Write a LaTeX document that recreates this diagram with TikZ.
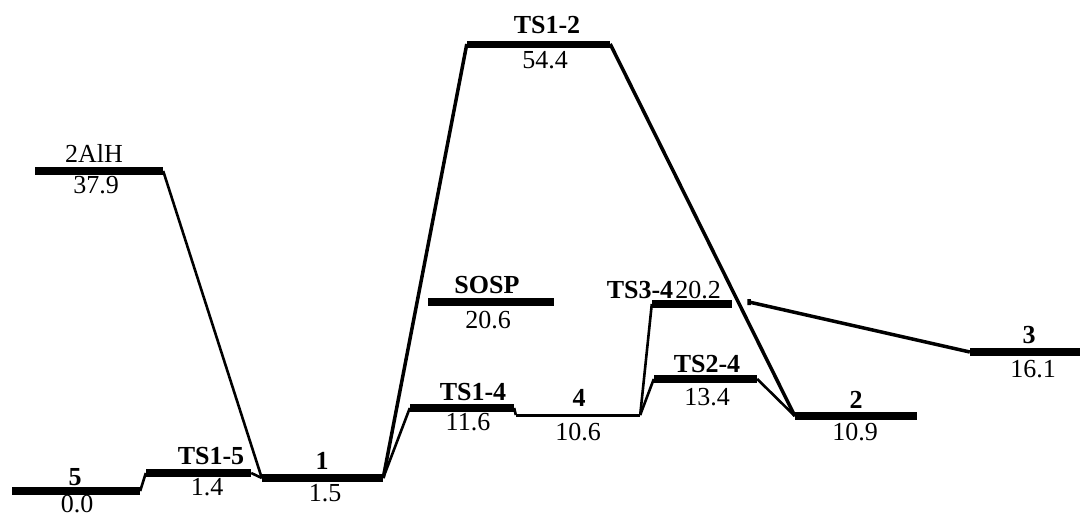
\documentclass[tikz,border=0pt]{standalone}
\usepackage{fontspec}
\setmainfont{Liberation Serif}
\begin{document}
\begin{tikzpicture}[x=1pt,y=-1pt,
  bar/.style={fill=black,draw=none,rectangle,inner sep=0pt,minimum height=8pt},
  thinbar/.style={fill=black,draw=none,rectangle,inner sep=0pt,minimum height=3pt},
  lab/.style={anchor=base,inner sep=0pt,font=\fontsize{26}{30}\selectfont\bfseries},
  en/.style={anchor=base,inner sep=0pt,font=\fontsize{26}{30}\selectfont},
  conn/.style={line width=2.6pt},
  thickconn/.style={line width=3.5pt}]
\useasboundingbox (0,0) rectangle (1080,515);
% levels
\node[bar,minimum width=128pt] (n5) at (76,491) {};
\node[bar,minimum width=105pt] (ts15) at (198.5,473) {};
\node[bar,minimum width=121pt] (n1) at (322.5,478) {};
\node[bar,minimum width=104pt] (ts14) at (462,408) {};
\node[thinbar,minimum width=124pt] (n4) at (578,415) {};
\node[bar,minimum width=126pt] (sosp) at (491,302) {};
\node[bar,minimum width=80pt] (ts34) at (692,304) {};
\node[bar,minimum width=103pt] (ts24) at (705.5,379) {};
\node[bar,minimum width=122pt] (n2) at (856,416) {};
\node[bar,minimum width=110pt] (n3) at (1025,352) {};
\node[bar,minimum width=143pt,minimum height=7pt] (ts12) at (538.5,44) {};
\node[bar,minimum width=128pt] (alh) at (99,171) {};
% labels
\node[lab] (l5) at (75,485) {5};
\node[en] (e5) at (77,512) {0.0};
\node[lab] (lts15) at (211,464) {TS1-5};
\node[en] (ets15) at (207,495) {1.4};
\node[lab] (l1) at (322,469) {1};
\node[en] (e1) at (325,501) {1.5};
\node[lab] (lts14) at (473,400) {TS1-4};
\node[en] (ets14) at (468,430) {11.6};
\node[lab] (l4) at (579,406) {4};
\node[en] (e4) at (578,440) {10.6};
\node[lab] (lsosp) at (487,293) {SOSP};
\node[en] (esosp) at (488,328) {20.6};
\node[lab] (lts34) at (640,298) {TS3-4};
\node[en] (ets34) at (698,298) {20.2};
\node[lab] (lts24) at (707,372) {TS2-4};
\node[en] (ets24) at (707,405) {13.4};
\node[lab] (l2) at (856,408) {2};
\node[en] (e2) at (855,440) {10.9};
\node[lab] (l3) at (1029,343) {3};
\node[en] (e3) at (1033,377) {16.1};
\node[lab] (lts12) at (547,33) {TS1-2};
\node[en] (ets12) at (545,68) {54.4};
\node[en] (lalh) at (94,162) {2AlH};
\node[en] (ealh) at (96,193) {37.9};
% connectors
\coordinate (c3end) at (749,302);
\draw[conn] (n5.east) -- (ts15.west);
\draw[conn] (ts15.east) -- (n1.west);
\draw[conn] (alh.east) -- (n1.west);
\draw[thickconn] (n1.east) -- (ts12.west);
\draw[conn] (n1.east) -- (ts14.west);
\draw[conn] (ts14.east) -- (n4.west);
\draw[conn] (n4.east) -- (ts34.west);
\draw[conn] (n4.east) -- (ts24.west);
\draw[conn] (ts24.east) -- (n2.west);
\draw[thickconn] (ts12.east) -- (n2.west);
\draw[thickconn] (n3.west) -- (c3end) ++(0,-3) -- ++(0,6);
\end{tikzpicture}
\end{document}
